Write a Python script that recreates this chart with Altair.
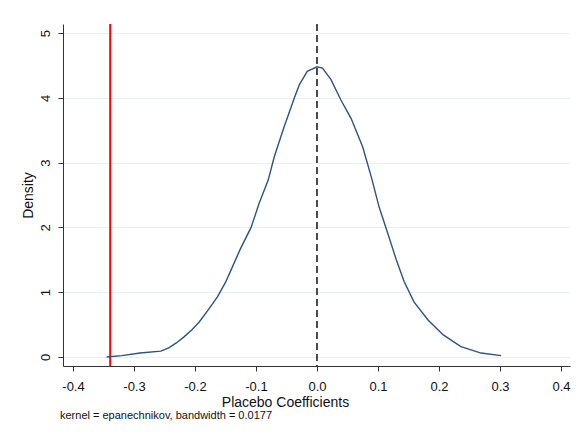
import altair as alt
import pandas as pd

# Kernel density of placebo coefficients
coef = [-0.345, -0.32, -0.29, -0.256, -0.243, -0.23, -0.218, -0.205, -0.193, -0.178,
        -0.163, -0.15, -0.141, -0.125, -0.108, -0.095, -0.08, -0.07, -0.054, -0.037,
        -0.029, -0.016, 0.0, 0.009, 0.023, 0.039, 0.056, 0.075, 0.089, 0.102,
        0.116, 0.13, 0.143, 0.159, 0.182, 0.207, 0.236, 0.269, 0.302]
density = [0.00, 0.02, 0.06, 0.09, 0.14, 0.22, 0.31, 0.42, 0.54, 0.73,
           0.93, 1.15, 1.34, 1.68, 2.00, 2.37, 2.73, 3.09, 3.55, 4.00,
           4.20, 4.41, 4.48, 4.46, 4.28, 3.97, 3.68, 3.24, 2.78, 2.31,
           1.91, 1.50, 1.16, 0.85, 0.57, 0.34, 0.16, 0.06, 0.02]

actual_coef = [-0.339]   # red line: true estimate
zero_line = [0.0]        # dashed reference line
x_ticks = [-0.4, -0.3, -0.2, -0.1, 0.0, 0.1, 0.2, 0.3, 0.4]
y_ticks = [0, 1, 2, 3, 4, 5]
note = ["kernel = epanechnikov, bandwidth = 0.0177"]

FONT = "Liberation Sans"
W, H = 507, 342

df = pd.DataFrame({"coef": coef, "density": density})
df_actual = pd.DataFrame({"coef": actual_coef})
df_zero = pd.DataFrame({"coef": zero_line})
df_note = pd.DataFrame({"note": note})

xscale = alt.Scale(domain=[-0.4164, 0.4148], nice=False, zero=False)
yscale = alt.Scale(domain=[-0.14, 5.14], nice=False, zero=False)

xaxis = alt.Axis(
    values=x_ticks, title="Placebo Coefficients", grid=False,
    labelExpr="(datum.value < -0.00001 ? '-' : '') + format(abs(datum.value), '.1f')",
    labelFont=FONT, labelFontSize=13, labelColor="#111", labelPadding=9,
    tickSize=5, tickColor="#333", domainColor="#333", labelFlush=False,
    titleFont=FONT, titleFontSize=14, titleFontWeight="normal", titleColor="#111",
    titleX=222, titleY=40, titleAlign="center", titleBaseline="alphabetic",
)
yaxis = alt.Axis(
    values=y_ticks, format="d", title="Density", grid=True, gridColor="#e8f0f2",
    labelFont=FONT, labelFontSize=13, labelColor="#111", labelPadding=6,
    labelAngle=270, labelAlign="center", labelBaseline="bottom",
    tickSize=5, tickColor="#333", domainColor="#333",
    titleFont=FONT, titleFontSize=14, titleFontWeight="normal", titleColor="#111",
    titlePadding=4,
)

line = alt.Chart(df).mark_line(color="#2b5480", strokeWidth=1.4).encode(
    x=alt.X("coef:Q", scale=xscale, axis=xaxis),
    y=alt.Y("density:Q", scale=yscale, axis=yaxis),
)

red = alt.Chart(df_actual).mark_rule(color="#ff0000", strokeWidth=2).encode(
    x=alt.X("coef:Q", scale=xscale)
)

dashed = alt.Chart(df_zero).mark_rule(color="#111", strokeWidth=1.5, strokeDash=[7, 4]).encode(
    x=alt.X("coef:Q", scale=xscale)
)

note_text = alt.Chart(df_note).mark_text(
    font=FONT, fontSize=11, color="#111", align="left", baseline="middle"
).encode(x=alt.value(-3), y=alt.value(H + 50), text="note:N")

chart = alt.layer(dashed, red, line, note_text).properties(
    width=W, height=H,
    autosize=alt.AutoSizeParams(type="none"),
    padding={"left": 63, "top": 24, "right": 9, "bottom": 71},
    background="white",
).configure_view(stroke=None)

chart.save("out.html", embed_options={"renderer": "svg", "actions": False})
